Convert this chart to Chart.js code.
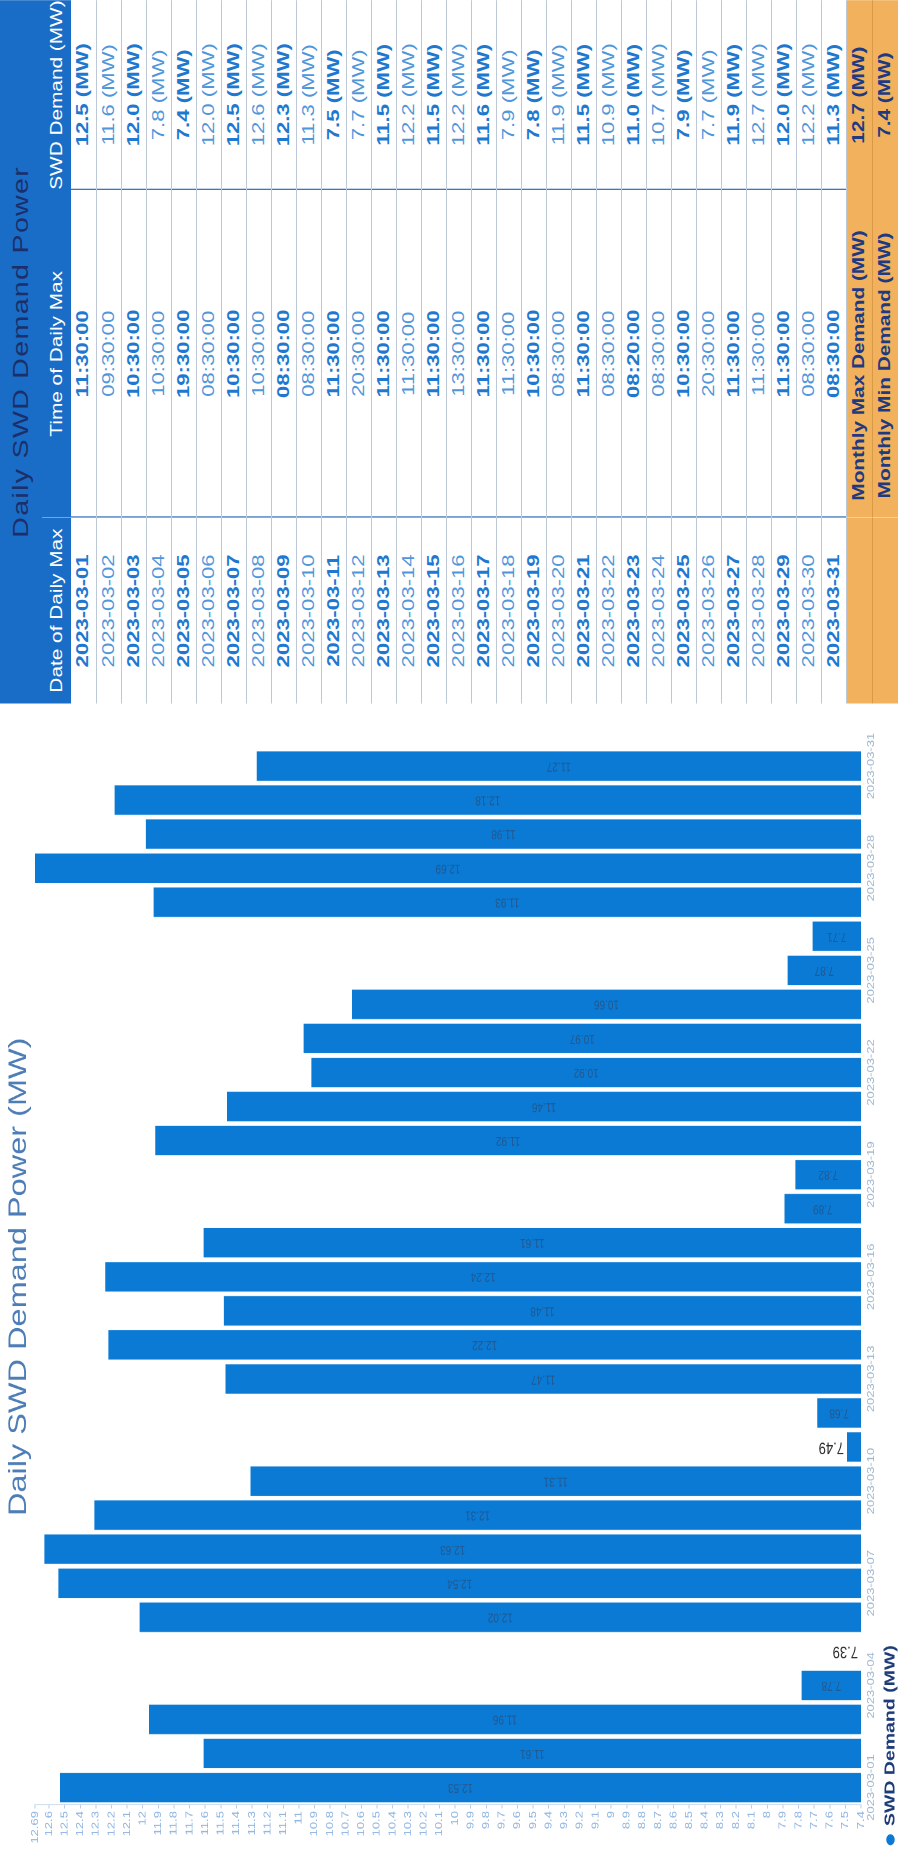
<!DOCTYPE html>
<html>
<head>
<meta charset="utf-8">
<script src="https://cdn.jsdelivr.net/npm/chart.js@4.4.0/dist/chart.umd.min.js"></script>
<style>
html, body { margin: 0; padding: 0; background: #fff; }
body { width: 898px; height: 1854px; overflow: hidden; position: relative; font-family: "Liberation Sans", Arial, sans-serif; }
/* the scanned page lies on its side, so build it landscape and turn it */
#page { position: absolute; left: 0; top: 0; width: 1426px; height: 898px; transform-origin: 0 0;
        transform: translate(0, 1854px) rotate(-90deg) scale(1.3, 1); }
#chart-box { position: absolute; left: 0; top: 0; width: 885px; height: 908px; }
#tbl { position: absolute; left: 885px; top: 0; width: 541px; border-collapse: collapse; table-layout: fixed; }
#tbl th, #tbl td { padding: 0; text-align: center; white-space: nowrap; overflow: hidden; box-sizing: border-box; }
#tbl .ttl th { height: 42px; background: #1a6dc6; color: #1c2f6b; font-size: 22px; letter-spacing: 1px; font-weight: normal; }
#tbl .hdr th { height: 29px; background: #1a6dc6; color: #fff; font-size: 16px; font-weight: normal; }
#tbl tbody td { height: 25px; line-height: 22px; font-size: 17px; color: #4f97da; border-bottom: 1px solid #bcc8d6; }
#tbl tbody td + td { border-left: 1px solid #3c78bd; }
#tbl tbody tr:nth-child(odd) td { color: #1f78cf; font-weight: bold; }
#tbl tfoot td { height: 26px; line-height: 22px; background: #f2b15c; color: #1e3a80; font-size: 16px; font-weight: bold; border-bottom: 1px solid #d99a45; }
#tbl tfoot td:nth-child(2) { padding-right: 18px; }
</style>
</head>
<body>
<div id="page">
  <div id="chart-box"><canvas id="myChart" width="885" height="908"></canvas></div>
  <table id="tbl">
    <colgroup><col style="width:143px"><col style="width:252px"><col style="width:146px"></colgroup>
    <thead>
      <tr class="ttl"><th colspan="3">Daily SWD Demand Power</th></tr>
      <tr class="hdr"><th>Date of Daily Max</th><th>Time of Daily Max</th><th>SWD Demand (MW)</th></tr>
    </thead>
    <tbody id="rows"></tbody>
    <tfoot>
      <tr><td></td><td>Monthly Max Demand (MW)</td><td id="maxCell"></td></tr>
      <tr><td></td><td>Monthly Min Demand (MW)</td><td id="minCell"></td></tr>
    </tfoot>
  </table>
</div>
<script>
var days = ['2023-03-01', '2023-03-02', '2023-03-03', '2023-03-04', '2023-03-05', '2023-03-06', '2023-03-07', '2023-03-08',
    '2023-03-09', '2023-03-10', '2023-03-11', '2023-03-12', '2023-03-13', '2023-03-14', '2023-03-15', '2023-03-16',
    '2023-03-17', '2023-03-18', '2023-03-19', '2023-03-20', '2023-03-21', '2023-03-22', '2023-03-23', '2023-03-24',
    '2023-03-25', '2023-03-26', '2023-03-27', '2023-03-28', '2023-03-29', '2023-03-30', '2023-03-31']

// bar heights (MW)
var demand = [12.53, 11.61, 11.96, 7.78, 7.39, 12.02, 12.54, 12.63, 12.31, 11.31, 7.49, 7.68, 11.47, 12.22, 11.48, 12.24,
    11.61, 7.89, 7.82, 11.92, 11.46, 10.92, 10.97, 10.66, 7.87, 7.71, 11.93, 12.69, 11.98, 12.18, 11.27]

// table columns
var peakTimes = ['11:30:00', '09:30:00', '10:30:00', '10:30:00', '19:30:00', '08:30:00', '10:30:00', '10:30:00',
    '08:30:00', '08:30:00', '11:30:00', '20:30:00', '11:30:00', '11:30:00', '11:30:00', '13:30:00',
    '11:30:00', '11:30:00', '10:30:00', '08:30:00', '11:30:00', '08:30:00', '08:20:00', '08:30:00',
    '10:30:00', '20:30:00', '11:30:00', '11:30:00', '11:30:00', '08:30:00', '08:30:00']
var tableMW = [12.5, 11.6, 12.0, 7.8, 7.4, 12.0, 12.5, 12.6, 12.3, 11.3, 7.5, 7.7, 11.5, 12.2, 11.5, 12.2,
    11.6, 7.9, 7.8, 11.9, 11.5, 10.9, 11.0, 10.7, 7.9, 7.7, 11.9, 12.7, 12.0, 12.2, 11.3]
var monthMax = 12.7
var monthMin = 7.4

var yTicks = [7.4, 7.5, 7.6, 7.7, 7.8, 7.9, 8, 8.1, 8.2, 8.3, 8.4, 8.5, 8.6, 8.7, 8.8, 8.9, 9, 9.1, 9.2, 9.3, 9.4,
    9.5, 9.6, 9.7, 9.8, 9.9, 10, 10.1, 10.2, 10.3, 10.4, 10.5, 10.6, 10.7, 10.8, 10.9, 11, 11.1, 11.2, 11.3, 11.4,
    11.5, 11.6, 11.7, 11.8, 11.9, 12, 12.1, 12.2, 12.3, 12.4, 12.5, 12.6, 12.69]

var barBlue = '#0a7ad5'
var fontFam = '"Liberation Sans", Arial, sans-serif'

// table
var body = document.getElementById('rows')
for (var i = 0; i < days.length; i++) {
    var tr = document.createElement('tr')
    tr.innerHTML = '<td>' + days[i] + '</td><td>' + peakTimes[i] + '</td><td>' + tableMW[i].toFixed(1) + ' (MW)</td>'
    body.appendChild(tr)
}
document.getElementById('maxCell').textContent = monthMax.toFixed(1) + ' (MW)'
document.getElementById('minCell').textContent = monthMin.toFixed(1) + ' (MW)'

// value labels written up the bars
const barLabels = {
    id: 'barLabels',
    afterDraw(chart) {
        const c = chart.ctx
        const yScale = chart.scales.y
        const xScale = chart.scales.x
        const base = yScale.getPixelForValue(yScale.min)
        for (let i = 0; i < demand.length; i++) {
            const txt = demand[i].toFixed(2)
            const x = xScale.getPixelForValue(i)
            const y = yScale.getPixelForValue(demand[i])
            const top = Math.min(y, base)
            const len = Math.abs(base - y)
            c.save()
            c.font = '10px ' + fontFam
            const w = c.measureText(txt).width
            if (len > w + 10) {
                c.translate(x, (y + base) / 2)
                c.rotate(-Math.PI / 2)
                c.textAlign = 'center'
                c.textBaseline = 'middle'
                c.fillStyle = 'rgba(50, 65, 95, 0.6)'
                c.fillText(txt, 0, 0)
            } else {
                c.font = '13px ' + fontFam
                c.translate(x, top - 3)
                c.rotate(-Math.PI / 2)
                c.textAlign = 'left'
                c.textBaseline = 'middle'
                c.fillStyle = '#2a2a2a'
                c.fillText(txt, 0, 0)
            }
            c.restore()
        }
    }
}

const ctx = document.getElementById('myChart')
const myChart = new Chart(ctx, {
    type: 'bar',
    data: {
        labels: days,
        datasets: [{
            label: 'SWD Demand (MW)',
            data: demand,
            backgroundColor: barBlue,
            borderWidth: 0,
            categoryPercentage: 0.9,
            barPercentage: 0.96
        }]
    },
    options: {
        responsive: false,
        animation: false,
        devicePixelRatio: 2,
        layout: { padding: { left: 6, right: 35, top: 0, bottom: 0 } },
        plugins: {
            title: {
                display: true,
                fullSize: false,
                text: 'Daily SWD Demand Power (MW)',
                color: '#4d7db6',
                font: { size: 25, family: fontFam, weight: 'normal' },
                padding: { top: 4, bottom: 1 }
            },
            legend: {
                position: 'bottom',
                align: 'start',
                labels: {
                    usePointStyle: true,
                    pointStyle: 'circle',
                    boxWidth: 6,
                    boxHeight: 6,
                    color: '#1d3b78',
                    font: { size: 15, weight: 'bold', family: fontFam },
                    padding: 2
                }
            },
            tooltip: { enabled: false }
        },
        scales: {
            x: {
                grid: { display: false, drawTicks: false },
                border: { display: false },
                ticks: {
                    autoSkip: false,
                    maxRotation: 0,
                    color: '#9fb6cf',
                    font: { size: 10, family: fontFam },
                    padding: 4,
                    callback: (v, i) => i % 3 === 0 ? days[i] : ''
                }
            },
            y: {
                min: 7.4,
                max: 12.69,
                afterBuildTicks: (a) => { a.ticks = yTicks.map(v => ({ value: v })) },
                grid: { drawOnChartArea: false, tickLength: 3, color: '#b9cfe8' },
                border: { color: '#d3e0ee' },
                ticks: {
                    autoSkip: false,
                    color: '#8db3e0',
                    font: { size: 10, family: fontFam },
                    padding: 2,
                    callback: (v) => String(v)
                }
            }
        }
    },
    plugins: [barLabels]
});
</script>
</body>
</html>
